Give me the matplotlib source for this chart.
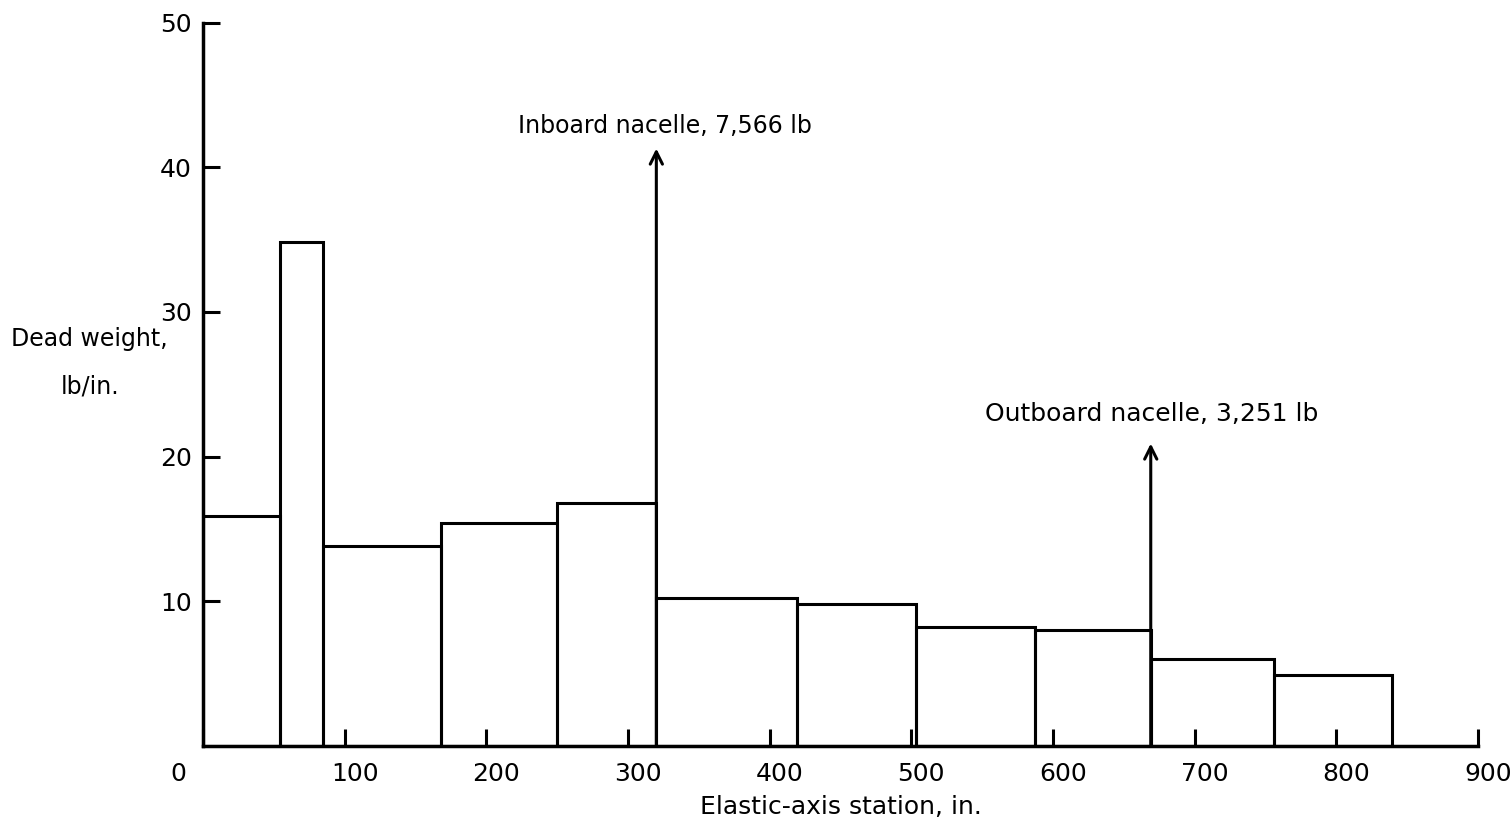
import matplotlib
matplotlib.use("Agg")
import matplotlib.pyplot as plt
import matplotlib.transforms as mtransforms
import numpy as np

# Data
edges = [0, 54, 85, 168, 250, 320, 419, 503, 587, 669, 756, 839]
weights = [15.9, 34.8, 13.8, 15.4, 16.8, 10.2, 9.8, 8.2, 8.0, 6.0, 4.9]
nacelle_x = [320, 669]
nacelle_tip = [41.3, 20.9]
nacelle_labels = ["Inboard nacelle, 7,566 lb", "Outboard nacelle, 3,251 lb"]
nacelle_text_pos = [(326, 42.0), (670, 22.1)]
nacelle_fontsize = [17, 18]
xticks = [0, 100, 200, 300, 400, 500, 600, 700, 800, 900]
yticks = [10, 20, 30, 40, 50]

plt.rcParams['font.family'] = ['DejaVu Sans']

fig = plt.figure(figsize=(15.12, 8.27), dpi=100)
ax = fig.add_axes([203/1512, 81.3/827, 1275/1512, 723/827])

lefts = np.array(edges[:-1])
widths = np.diff(edges)
ax.bar(lefts, weights, width=widths, align='edge', fill=False,
       edgecolor='black', linewidth=2.2)

for x, tip, lab, pos, fs in zip(nacelle_x, nacelle_tip, nacelle_labels,
                                nacelle_text_pos, nacelle_fontsize):
    ax.annotate("", xy=(x, tip), xytext=(x, 0),
                arrowprops=dict(arrowstyle="->", color='black', lw=2.2,
                                mutation_scale=22, shrinkA=0, shrinkB=0))
    ax.text(pos[0], pos[1], lab, ha='center', va='bottom', fontsize=fs)

ax.set_xlim(0, 900)
ax.set_ylim(0, 50)
ax.spines['top'].set_visible(False)
ax.spines['right'].set_visible(False)
ax.spines['left'].set_linewidth(2.5)
ax.spines['bottom'].set_linewidth(2.5)

ax.set_xticks(xticks)
ax.set_xticklabels([str(t) for t in xticks], fontsize=18)
ax.set_yticks(yticks)
ax.set_yticklabels([str(t) for t in yticks], fontsize=18)
ax.tick_params(axis='both', direction='in', length=12, width=2.2, pad=12)
ax.tick_params(axis='y', pad=8)

# shift the "0" label left like the original, others slightly right
for i, lab in enumerate(ax.get_xticklabels()):
    dx = -25 / 100 if i == 0 else 10 / 100
    lab.set_transform(lab.get_transform() +
                      mtransforms.ScaledTranslation(dx, 0, fig.dpi_scale_trans))

ax.set_xlabel("Elastic-axis station, in.", fontsize=18, labelpad=6)
fig.text(89/1512, 1 - 339/827, "Dead weight,", ha='center', va='center', fontsize=17)
fig.text(90/1512, 1 - 386/827, "lb/in.", ha='center', va='center', fontsize=17)

fig.savefig("out.png", dpi=100)
